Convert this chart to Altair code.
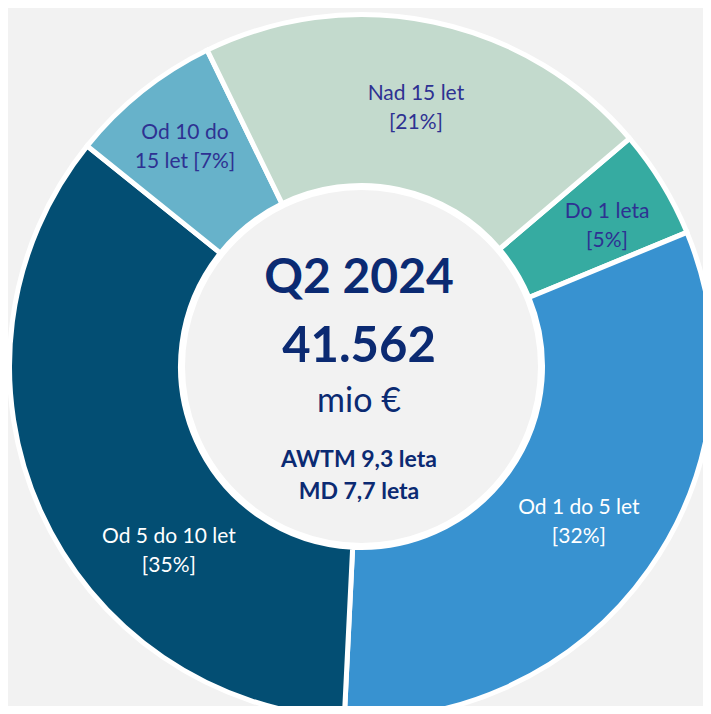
import math
import altair as alt
import pandas as pd

# ---- data ----
categories = ["Do 1 leta", "Od 1 do 5 let", "Od 5 do 10 let", "Od 10 do 15 let", "Nad 15 let"]
shares = [5, 32, 35, 7, 21]
label_lines = [
    "Do 1 leta\n[5%]",
    "Od 1 do 5 let\n[32%]",
    "Od 5 do 10 let\n[35%]",
    "Od 10 do\n15 let [7%]",
    "Nad 15 let\n[21%]",
]
center_title = ["Q2 2024"]
center_total = ["41.562"]
center_unit = ["mio €"]
center_awtm = ["AWTM 9,3 leta"]
center_md = ["MD 7,7 leta"]

# ---- styles ----
slice_colors = ["#36aba1", "#3892d0", "#034e73", "#67b2ca", "#c3dacd"]
dark_text = "#2e3192"
center_text = "#0b2a72"
bg = "#f2f2f2"
FONT = "Lato"

df = pd.DataFrame({"cat": categories, "share": shares, "label": label_lines,
                   "idx": list(range(len(categories)))})

CX, CY = 353.5, 358.5
start = math.radians(49.6)
theta_scale = alt.Scale(domain=[0, sum(shares)], range=[start, start + 2 * math.pi])

arcs = alt.Chart(df).mark_arc(
    outerRadius=352, innerRadius=181, stroke="white", strokeWidth=5
).encode(
    theta=alt.Theta("share:Q", stack=True, scale=theta_scale),
    color=alt.Color("cat:N", scale=alt.Scale(domain=categories, range=slice_colors), legend=None),
    order=alt.Order("idx:Q"),
    x=alt.value(CX),
    y=alt.value(CY),
)

one = pd.DataFrame({"k": [0]})
disk = alt.Chart(one).mark_arc(
    theta=0, theta2=2 * math.pi, outerRadius=179, innerRadius=0,
    color=bg, stroke="white", strokeWidth=5
).encode(x=alt.value(CX), y=alt.value(CY))

light_on_dark = ["Od 1 do 5 let", "Od 5 do 10 let"]


def label_layer(name, r, dx=0, dy=0):
    pred = alt.FieldEqualPredicate(field="cat", equal=name)
    col = "white" if name in light_on_dark else dark_text
    return alt.Chart(df).mark_text(
        font=FONT, fontSize=21, lineBreak="\n", lineHeight=29,
        align="center", baseline="middle", dx=dx, dy=dy, color=col
    ).encode(
        theta=alt.Theta("share:Q", stack=True, scale=theta_scale),
        order=alt.Order("idx:Q"),
        radius=alt.value(r),
        text=alt.condition(pred, alt.Text("label:N"), alt.value("")),
        x=alt.value(CX),
        y=alt.value(CY),
    )


labels = [
    label_layer("Nad 15 let", 266, 0, -12.5),
    label_layer("Od 1 do 5 let", 266, 0, -11.5),
    label_layer("Do 1 leta", 283, 4, -7.5),
    label_layer("Od 10 do 15 let", 283, 0, -12.5),
    label_layer("Od 5 do 10 let", 266, 50, 61.5),
]


def center_layer(lines, size, weight, ybase):
    return alt.Chart(pd.DataFrame({"t": lines})).mark_text(
        font=FONT, fontSize=size, fontWeight=weight, color=center_text,
        align="center", baseline="alphabetic"
    ).encode(text="t:N", x=alt.value(351), y=alt.value(ybase))


centers = [
    center_layer(center_title, 48, "bold", 285),
    center_layer(center_total, 49, "bold", 354),
    center_layer(center_unit, 34, "normal", 404),
    center_layer(center_awtm, 23, "bold", 459),
    center_layer(center_md, 23, "bold", 491),
]

chart = alt.layer(arcs, disk, *labels, *centers).properties(
    width=695, height=698, background=bg, padding=0,
    autosize=alt.AutoSizeParams(type="none"),
).configure_view(stroke=None)

chart.save("out.html", embed_options={"renderer": "svg", "actions": False})
